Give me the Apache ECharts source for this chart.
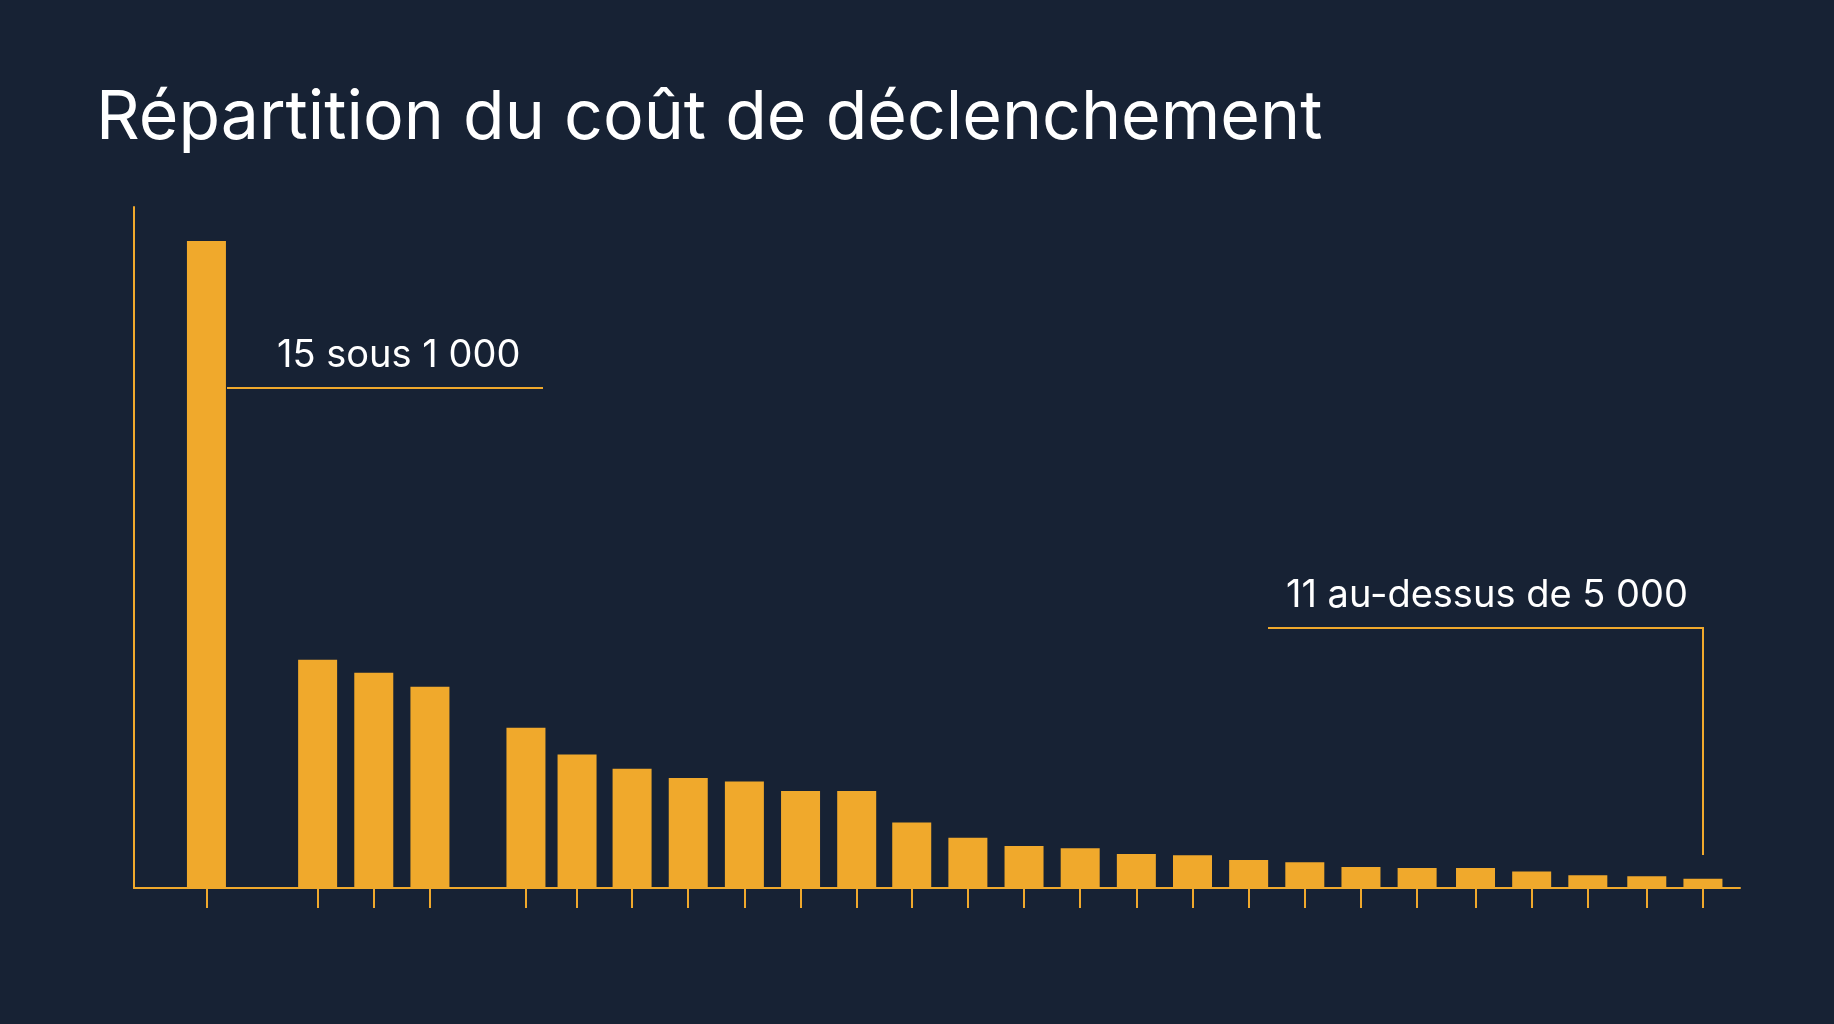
<!DOCTYPE html>
<html><head><meta charset="utf-8">
<script src="https://cdn.jsdelivr.net/npm/echarts@6/dist/echarts.min.js"></script>
<style>html,body{margin:0;background:#172234}#c{width:1834px;height:1024px}</style>
</head><body><div id="c"></div>
<script>
// positions des barres (rang, avec écarts entre les groupes)
var positions = [0, 1.98, 2.98, 3.98, 5.69, 6.6, 7.58, 8.58, 9.58, 10.58, 11.58, 12.56, 13.56, 14.56,
  15.56, 16.56, 17.56, 18.56, 19.56, 20.56, 21.56, 22.6, 23.6, 24.6, 25.65, 26.65];
var values = [553, 195, 184, 172, 137, 114, 102, 94, 91, 83, 83, 56, 43, 36, 34, 29, 28, 24, 22, 18,
  17, 17, 14, 11, 10, 8];
var titre = 'Répartition du coût de déclenchement';
var noteBas = '15 sous 1 000';
var noteHaut = '11 au-dessus de 5 000';

var gold = '#F0A92C';
var myChart = echarts.init(document.getElementById('c'));
var data = positions.map(function (p, i) { return [p, values[i]]; });
var font = 'Inter, "Noto Sans", sans-serif';

myChart.setOption({
    backgroundColor: '#172234',
    animation: false,
    title: { text: titre, left: 91, top: 80,
        textStyle: { color: '#fff', fontSize: 68, fontWeight: 400, fontFamily: font } },
    grid: { left: 134, right: 94, top: 207, bottom: 136 },
    xAxis: [{
        type: 'value', min: -1.29, max: 27.31,
        axisLine: { show: true, onZero: false, lineStyle: { color: gold, width: 2 } },
        axisTick: { show: false }, axisLabel: { show: false }, splitLine: { show: false }
    }, {
        type: 'value', min: -1.29, max: 27.31, position: 'bottom', offset: 15,
        axisLine: { show: false },
        axisTick: { show: true, customValues: positions, length: 20, inside: false,
            lineStyle: { color: gold, width: 2 } },
        axisLabel: { show: false }, splitLine: { show: false }
    }],
    yAxis: {
        type: 'value', min: 0, max: 582,
        axisLine: { show: true, onZero: false, lineStyle: { color: gold, width: 2 } },
        axisTick: { show: false }, axisLabel: { show: false }, splitLine: { show: false }
    },
    series: [{
        type: 'bar', data: data, barWidth: 39,
        itemStyle: { color: gold }
    }],
    graphic: [
        { type: 'text', left: 277, top: 337,
          style: { text: noteBas, fill: '#fff', fontSize: 38, fontFamily: font } },
        { type: 'line', shape: { x1: 227, y1: 388, x2: 543, y2: 388 },
          style: { stroke: gold, lineWidth: 2 } },
        { type: 'text', left: 1286, top: 577,
          style: { text: noteHaut, fill: '#fff', fontSize: 38, fontFamily: font } },
        { type: 'polyline', shape: { points: [[1268, 628], [1703, 628], [1703, 855]] },
          style: { stroke: gold, lineWidth: 2, fill: null } }
    ]
});
</script></body></html>
